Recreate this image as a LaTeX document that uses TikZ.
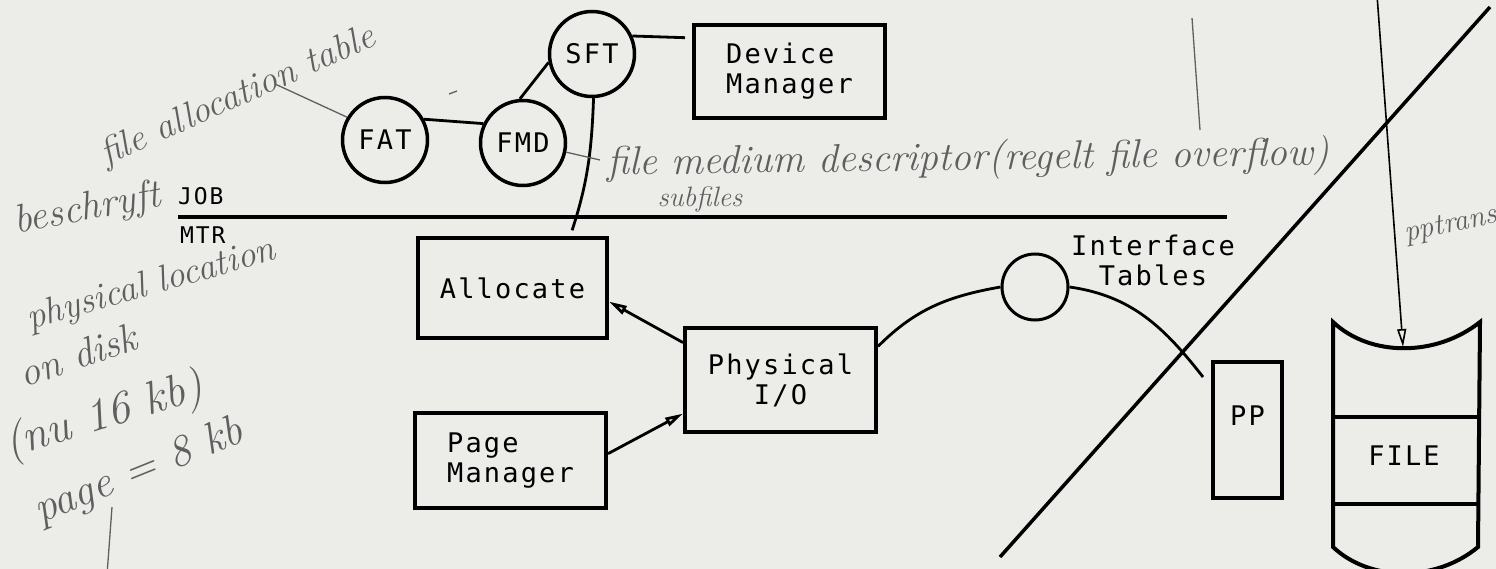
\documentclass[tikz,border=0pt]{standalone}
\usepackage{fontspec}
\newfontfamily\plotfont[LetterSpace=8]{DejaVu Sans Mono}
\usetikzlibrary{shapes}
\usetikzlibrary{arrows.meta}
\definecolor{paper}{RGB}{236,236,233}
\definecolor{pen}{RGB}{95,95,95}

\tikzset{
    plain/.style={inner sep=0pt, font=\plotfont\fontsize{27}{30}\selectfont},
    box/.style={plain, draw, line width=4pt, minimum width=191pt, align=left},
    table/.style={plain, draw, shape=circle, line width=3.5pt, minimum size=85pt},
    wire/.style={line width=2.8pt},
    note/.style={pen, inner sep=0pt, anchor=base west, font=\itshape\fontsize{#1}{#1}\selectfont},
    penline/.style={pen, line width=1.3pt},
}

\begin{document}
\begin{tikzpicture}[x=1pt,y=1pt,>={Triangle[open,length=18pt,width=9pt]}]
    \useasboundingbox[fill=paper] (0,0) rectangle (1496,-569);
    \clip (0,0) rectangle (1496,-569);

    \draw (385,-140) node [table] (fat) {FAT} ;
    \draw (523,-143) node [table] (fmd) {FMD} ;
    \draw (592,-54) node [table] (sft) {SFT} ;
    \draw (789.5,-71.5) node [box,minimum height=93pt] (devmgr) {Device\\Manager} ;
    \draw (512.5,-288) node [box,minimum width=189pt,minimum height=100pt] (alloc) {Allocate} ;
    \draw (510.5,-460.5) node [box,minimum height=95pt] (pagemgr) {Page\\Manager} ;
    \draw (780.5,-380) node [box,minimum height=104pt,align=center] (phys) {Physical\\I/O} ;
    \draw (1035,-287) node [draw,shape=circle,line width=3pt,minimum size=66pt] (iface) {} ;
    \draw (1153,-260) node [plain,align=center] (ifacelbl) {Interface\\Tables} ;
    \draw (1247.5,-430) node [box,minimum width=69pt,minimum height=136pt,text depth=28pt,align=center] (pp) {PP} ;
    \draw (1404,-456) node [plain] (file) {FILE} ;

    % JOB / MTR boundary
    \coordinate (jobl) at (178,-217);
    \coordinate (jobr) at (1227,-217);
    \draw[line width=4.5pt] (jobl) -- (jobr);
    \draw (178,-205) node [plain,anchor=base west,font=\plotfont\fontsize{23}{26}\selectfont] (job) {JOB} ;
    \draw (180,-244) node [plain,anchor=base west,font=\plotfont\fontsize{23}{26}\selectfont] (mtr) {MTR} ;

    % PP / FILE cut
    \coordinate (cuttop) at (1490,-7);
    \coordinate (cutbot) at (1000,-557);
    \draw[line width=3.5pt] (cuttop) -- (cutbot);

    \draw[line width=4pt] (1333,-322) .. controls (1370,-357) and (1436,-357) .. (1480,-322)
        -- (1478,-547) .. controls (1436,-582) and (1370,-582) .. (1333,-547) -- cycle;
    \draw[line width=4pt] (1333,-417) -- (1479,-417);
    \draw[line width=4pt] (1333,-504) -- (1478,-504);

    \draw[wire] (fat.28) -- (fmd.154);
    \draw[wire] (fmd.94) -- (sft.191);
    \draw[wire, shorten >=7pt] (sft.24) -- (devmgr.161);
    \draw[wire, shorten >=6pt] (sft.-88) to [out=-92, in=72] (alloc.42);
    \draw[wire,->] (phys.159) -- (alloc.-8);
    \draw[wire,->] (pagemgr.4) -- (phys.199);
    \coordinate (ppwire) at (1203,-377);
    \draw[wire] (phys.19) to [out=45, in=190] (iface.west);
    \draw[wire] (iface.east) to [out=-8, in=128] (ppwire);
    \coordinate (filein) at (1377,5);
    \coordinate (filetop) at (1403,-347);
    \draw[->, line width=1.6pt] (filein) -- (filetop);

    % pencil notes
    \draw (106,-166) node [note=37, rotate=24] (fatnote) {file allocation table} ;
    \coordinate (fatlead) at (275,-84);
    \draw[penline] (fatlead) -- (fat.149);
    \draw[penline] (449,-94) -- (457,-91);
    \draw (16,-234) node [note=40, rotate=11] (beschr) {beschryft} ;
    \draw (30,-330) node [note=37, rotate=16] (physloc) {physical location} ;
    \draw (24,-388) node [note=40, rotate=19] (ondisk) {on disk} ;
    \draw (9,-458) node [note=46, rotate=17] (nukb) {(nu 16 kb)} ;
    \draw (40,-524) node [note=44, rotate=22] (pagekb) {page = 8 kb} ;
    \coordinate (pagetail) at (107,-575);
    \draw[penline] (112,-507) -- (pagetail);
    \draw (607,-175) node [note=40, rotate=0.8] (fmdnote) {file medium descriptor(regelt file overflow)} ;
    \coordinate (fmdlead) at (600,-160);
    \draw[penline] (fmd.-12) -- (fmdlead);
    \draw (700,-200) node [note=28, anchor=center] (subf) {subfiles} ;
    \draw[penline] (1192,-18) -- (1200,-130);
    \draw (1406,-242) node [note=30, rotate=12] (pptr) {pptransp} ;
\end{tikzpicture}
\end{document}
